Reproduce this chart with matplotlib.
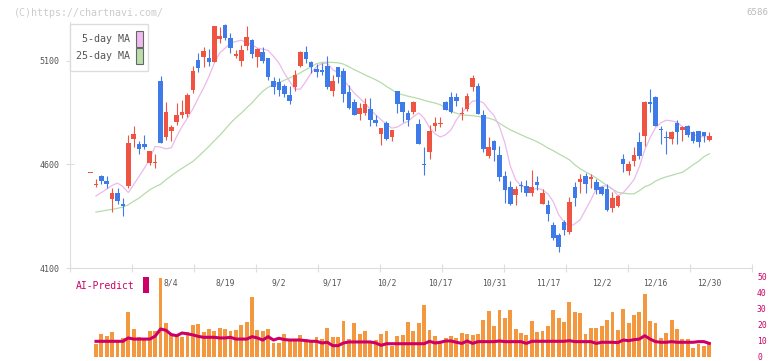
import matplotlib
matplotlib.use('Agg')
import matplotlib.pyplot as plt
import numpy as np
from matplotlib.patches import Rectangle
from matplotlib.transforms import blended_transform_factory

plt.rcParams['font.family'] = ['DejaVu Sans Mono', 'DejaVu Sans']

# ---------------- data ----------------
first_candle = -15          # trading-day index of first candle (8/4 = 0)
opens = [4558, 4500, 4542, 4521, 4434, 4464, 4411, 4498, 4722, 4698, 4699, 4609, 4606, 5003, 4732,
         4759, 4804, 4838, 4841, 4957, 5105, 5118, 5113, 5092, 5206, 5274, 5210, 5121, 5097,
         5169, 5201, 5116, 5140, 5113, 5003, 4997, 4976, 4936, 4971, 5077, 5140, 5092, 5061,
         5057, 5076, 4952, 5070, 5052, 4949, 4901, 4843, 4850, 4868, 4815, 4748, 4799, 4732,
         4952, 4899, 4850, 4855, 4796, 4603, 4662, 4783, 4795, 4901, 4925, 4925, 4844, 4868,
         4971, 4979, 4839, 4642, 4711, 4646, 4542, 4489, 4450, 4502, 4497, 4464, 4513, 4410,
         4405, 4309, 4257, 4322, 4273, 4490, 4513, 4546, 4529, 4513, 4489, 4482, 4389, 4397,
         4627, 4566, 4614, 4706, 4739, 4899, 4923, 4772, 4732, 4724, 4799, 4764, 4783, 4754,
         4762, 4756, 4719]
highs = [4558, 4529, 4550, 4542, 4486, 4486, 4440, 4743, 4786, 4715, 4743, 4666, 4651, 5028, 4899,
         4791, 4897, 4912, 4942, 5076, 5137, 5164, 5158, 5269, 5263, 5279, 5234, 5153, 5177,
         5269, 5206, 5161, 5166, 5113, 5024, 5019, 4989, 4976, 5057, 5145, 5172, 5097, 5086,
         5089, 5124, 5032, 5072, 5065, 4984, 4917, 4896, 4920, 4920, 4839, 4775, 4807, 4767,
         4952, 4899, 4860, 4907, 4819, 4683, 4791, 4828, 4828, 4906, 4949, 4944, 4875, 4944,
         5029, 4995, 4860, 4732, 4719, 4690, 4569, 4518, 4497, 4522, 4526, 4574, 4545, 4482,
         4429, 4322, 4268, 4333, 4442, 4515, 4553, 4558, 4553, 4529, 4497, 4505, 4466, 4453,
         4651, 4614, 4686, 4754, 4907, 4965, 4928, 4783, 4762, 4759, 4815, 4783, 4788, 4759,
         4762, 4756, 4754]
lows = [4558, 4490, 4505, 4486, 4368, 4408, 4349, 4486, 4686, 4651, 4675, 4595, 4582, 4701, 4719,
        4711, 4791, 4826, 4831, 4944, 5048, 5072, 5077, 5092, 5188, 5201, 5137, 5111, 5077,
        5150, 5113, 5072, 5089, 5005, 4939, 4931, 4923, 4891, 4955, 5072, 5089, 5041, 5024,
        5032, 4963, 4931, 4995, 4899, 4868, 4836, 4815, 4839, 4786, 4786, 4695, 4719, 4715,
        4850, 4804, 4783, 4843, 4698, 4550, 4627, 4762, 4778, 4860, 4848, 4883, 4812, 4859,
        4955, 4844, 4662, 4633, 4617, 4518, 4416, 4405, 4405, 4469, 4448, 4448, 4477, 4410,
        4328, 4236, 4175, 4260, 4265, 4400, 4464, 4464, 4486, 4457, 4453, 4376, 4368, 4392,
        4561, 4550, 4593, 4627, 4691, 4855, 4783, 4698, 4651, 4698, 4699, 4714, 4732, 4703,
        4682, 4706, 4711]
closes = [4558, 4506, 4518, 4503, 4462, 4424, 4397, 4704, 4748, 4674, 4683, 4666, 4613, 4701, 4854,
          4778, 4839, 4854, 4936, 5052, 5063, 5147, 5092, 5269, 5221, 5210, 5161, 5134, 5153,
          5214, 5132, 5158, 5101, 5024, 4971, 4957, 4939, 4908, 5032, 5140, 5110, 5068, 5048,
          5044, 4971, 5003, 5024, 4939, 4872, 4839, 4872, 4892, 4812, 4802, 4775, 4724, 4767,
          4891, 4855, 4812, 4901, 4698, 4598, 4762, 4802, 4802, 4864, 4852, 4904, 4850, 4931,
          5017, 4844, 4675, 4683, 4670, 4537, 4477, 4410, 4481, 4497, 4464, 4489, 4502, 4464,
          4362, 4247, 4199, 4284, 4418, 4440, 4531, 4505, 4539, 4474, 4457, 4378, 4437, 4448,
          4601, 4603, 4646, 4642, 4899, 4892, 4786, 4767, 4727, 4754, 4754, 4778, 4743, 4715,
          4706, 4735, 4738]

first_series = -14          # index of first MA / volume point
ma5 = [4448, 4464, 4481, 4498, 4510, 4493, 4464, 4502, 4542, 4582,
       4627, 4687, 4683, 4675, 4680, 4735, 4783, 4823, 4867, 4920,
       4968, 5024, 5089, 5137, 5161, 5185, 5193, 5199, 5188, 5177,
       5161, 5156, 5150, 5121, 5089, 5041, 5000, 4963, 4963, 5000,
       5041, 5072, 5086, 5089, 5057, 5041, 5008, 4976, 4944, 4920,
       4896, 4864, 4839, 4815, 4794, 4775, 4780, 4796, 4807, 4830,
       4848, 4823, 4777, 4748, 4732, 4743, 4767, 4815, 4849, 4879,
       4905, 4908, 4897, 4864, 4835, 4782, 4704, 4593, 4526, 4497,
       4486, 4477, 4485, 4477, 4458, 4420, 4357, 4323, 4299, 4313,
       4333, 4381, 4429, 4482, 4494, 4497, 4482, 4448, 4463, 4493,
       4526, 4588, 4670, 4728, 4777, 4801, 4813, 4810, 4803, 4782,
       4762, 4745, 4736, 4733, 4732]
ma25 = [4370, 4374, 4379, 4383, 4388, 4394, 4405, 4422, 4437, 4458,
        4477, 4492, 4504, 4526, 4545, 4564, 4581, 4598, 4614, 4637,
        4662, 4687, 4714, 4740, 4769, 4799, 4825, 4847, 4873, 4897,
        4926, 4953, 4972, 4984, 4994, 5006, 5017, 5030, 5042, 5057,
        5071, 5086, 5092, 5093, 5092, 5090, 5084, 5071, 5057, 5045,
        5032, 5020, 5008, 4994, 4976, 4960, 4943, 4936, 4929, 4923,
        4917, 4909, 4902, 4896, 4888, 4871, 4855, 4847, 4839, 4837,
        4835, 4831, 4827, 4823, 4815, 4798, 4782, 4767, 4755, 4743,
        4731, 4721, 4709, 4695, 4679, 4666, 4651, 4637, 4622, 4598,
        4579, 4564, 4550, 4534, 4516, 4497, 4480, 4465, 4461, 4458,
        4458, 4473, 4492, 4502, 4519, 4531, 4540, 4547, 4555, 4562,
        4579, 4598, 4615, 4637, 4651]
volume = [8.1, 14.4, 13.1, 15.6, 10, 11.7, 28.3, 17.5, 12.5, 11.7,
          16.5, 16.5, 49.4, 21.3, 14.4, 14, 12.5, 15.8, 20, 20.6,
          15.8, 17.5, 16.5, 18.1, 17.5, 16.5, 16.9, 20, 21.7, 37.7,
          16.9, 16, 17.5, 8.75, 8.75, 14.4, 10.6, 10.6, 13.8, 11.3,
          10.6, 12.5, 11.3, 18.1, 12.5, 12.5, 22.7, 11.3, 21.3, 14.4,
          16.5, 10.2, 10.6, 14.4, 16.5, 7.1, 13.3, 13.8, 22.1, 16.5,
          21.3, 32.7, 16.9, 12.9,
          9.2, 11.9, 13.1, 11.9, 15, 14.4, 13.75, 14.4, 23.1, 28.75,
          19.4, 29.4, 24.4, 29.4, 17.5, 15, 13.75, 22.5, 15.6, 16.25,
          19.4, 29.4, 24.4, 21.9, 34.4, 28.1, 27.5, 14.5, 18.1, 18.1,
          19.4, 23.1, 28.1, 16.9, 30, 21.25, 26.25, 28.1, 39.4, 22.5,
          21.25, 12, 15, 23.1, 17.5, 11.25, 11.25, 5.6, 8.1, 6.9, 8.75]
ai_predict = [9.8, 9.8, 9.8, 9.8, 9.8, 9.8, 11.9, 11.2, 11.2, 11.2,
              11.2, 13, 17.5, 16.7, 14, 13.3, 15, 14.5, 13.8, 12.9,
              12.3, 12.3, 12.3, 11.9, 11.9, 12.3, 11.2, 11.2, 11.2, 12.7,
              11.9, 10.6, 12.7, 10.6, 11.7, 10.9, 10.6, 10.6, 10.6, 10.2,
              9.8, 9.8, 8.75, 9.2, 7.1, 7.1, 8.75, 9.4, 9.4, 9.4,
              9.4, 9.4, 8.75, 7.3, 8.3, 8.3, 8.3, 8.3, 8.3, 8.3,
              8.3, 8.3, 9.8, 8.75, 9.2, 10, 10, 9.2, 8.5, 10,
              8.5, 9.6, 9.6, 9.6, 9.6, 10, 9.6, 9.6, 9.6, 9.6,
              8.5, 9.8, 9.8, 9.8, 9.8, 9.8, 9.8, 9.8, 10.2, 9.6,
              9.6, 9.6, 9.6, 8.5, 9.2, 9.2, 9.2, 9, 10.6, 10.2,
              10.8, 11.2, 13.3, 11.2, 9.6, 9.2, 9.2, 9.6, 9.2, 9.2,
              9.2, 9.2, 9.6, 9.6, 8.5]

date_labels = ['8/4', '8/19', '9/2', '9/17', '10/2', '10/17', '10/31',
               '11/17', '12/2', '12/16', '12/30']
date_label_index = [0, 10, 20, 30, 40, 50, 60, 70, 80, 90, 100]
price_ticks = [4100, 4600, 5100]
ai_ticks = [0, 10, 20, 30, 40, 50]

# ---------------- styling ----------------
RED = '#ef5443'
BLUE = '#3f7ae9'
PINK = '#ebbaeb'
GREEN = '#b6dcaa'
ORANGE = '#f3983f'
CRIMSON = '#cc0066'
AXIS = '#dddddd'
TEXT = '#555555'

W, H = 772, 361
fig = plt.figure(figsize=(W / 100, H / 100), dpi=100)


def fx(px):
    return px / W


def fy(py):
    return 1 - py / H


ax = fig.add_axes([fx(70), fy(268), (752 - 70) / W, (268 - 22) / H])
ax2 = fig.add_axes([fx(70), 0, (752 - 70) / W, (361 - 268) / H])

xlim = (-18.83, 107.94)

# candles
c_idx = np.arange(first_candle, first_candle + len(opens))
o = np.array(opens, float)
c = np.array(closes, float)
hi = np.array(highs, float)
lo = np.array(lows, float)
cols = [RED if cc >= oo else BLUE for oo, cc in zip(o, c)]
ax.vlines(c_idx, lo, hi, colors=cols, linewidth=0.8, zorder=3)
body_bottom = np.minimum(o, c)
body_h = np.maximum(np.abs(c - o), 4.5)
ax.bar(c_idx, body_h, bottom=body_bottom, width=0.85, color=cols,
       linewidth=0, zorder=4)

# moving averages
s_idx = np.arange(first_series, first_series + len(ma5))
ax.plot(s_idx, ma25, color=GREEN, lw=0.9, zorder=2)
ax.plot(s_idx, ma5, color=PINK, lw=0.9, zorder=2)

ax.set_xlim(*xlim)
ax.set_ylim(4100, 5287)
for side in ['top', 'right']:
    ax.spines[side].set_visible(False)
for side in ['left', 'bottom']:
    ax.spines[side].set_color(AXIS)
    ax.spines[side].set_linewidth(0.8)
ax.set_yticks(price_ticks)
ax.set_yticklabels([str(t) for t in price_ticks])
ax.set_xticks(np.linspace(xlim[0], xlim[1], 12))
ax.set_xticklabels([])
ax.tick_params(axis='y', direction='inout', length=6, width=0.8, color=AXIS,
               labelsize=6, labelcolor=TEXT, pad=4.5)
ax.tick_params(axis='x', direction='inout', length=6, width=0.8, color=AXIS)
ax.patch.set_alpha(0)

# bottom panel
v_idx = np.arange(first_series, first_series + len(volume))
ax2.bar(v_idx, volume, width=0.72, color=ORANGE, linewidth=0, zorder=2)
ax2.plot(s_idx, ai_predict, color=CRIMSON, lw=2.2, zorder=3)
ax2.set_xlim(*xlim)
ax2.set_ylim(-2.5, 55.6)
for sp in ax2.spines.values():
    sp.set_visible(False)
ax2.set_xticks([])
ax2.yaxis.tick_right()
ax2.set_yticks(ai_ticks)
ax2.set_yticklabels([str(t) for t in ai_ticks])
ax2.tick_params(axis='y', length=0, pad=3.6, labelsize=5.8, labelcolor=CRIMSON)
ax2.patch.set_alpha(0)

trans = blended_transform_factory(ax2.transData, ax2.transAxes)
for pos, lab in zip(date_label_index, date_labels):
    ax2.text(pos, 0.844, lab, transform=trans, ha='center', va='center',
             fontsize=5.8, color=TEXT)

# legend box
fig.add_artist(Rectangle((fx(70), fy(71)), 78 / W, 47 / H, transform=fig.transFigure,
                         facecolor='white', edgecolor=AXIS, lw=1.0, zorder=10))
fig.text(fx(130), fy(39.5), '5-day MA', ha='right', va='center', fontsize=7.2,
         color=TEXT, zorder=11)
fig.text(fx(130), fy(56), '25-day MA', ha='right', va='center', fontsize=7.2,
         color=TEXT, zorder=11)
fig.add_artist(Rectangle((fx(136), fy(46.7)), 6.7 / W, 15.7 / H, transform=fig.transFigure,
                         facecolor='#eebbee', edgecolor='#666666', lw=0.8, zorder=11))
fig.add_artist(Rectangle((fx(136), fy(64)), 6.7 / W, 15.7 / H, transform=fig.transFigure,
                         facecolor='#bbddaa', edgecolor='#666666', lw=0.8, zorder=11))

# AI-Predict label
fig.text(fx(76), fy(286), 'AI-Predict', ha='left', va='center', fontsize=7,
         color=CRIMSON)
fig.add_artist(Rectangle((fx(142.5), fy(293)), 6.5 / W, 16 / H, transform=fig.transFigure,
                         facecolor=CRIMSON, edgecolor='none'))

# watermark / code
fig.text(fx(14), fy(12.5), '(C)https://chartnavi.com/', ha='left', va='center',
         fontsize=7.2, color='#cccccc')
fig.text(fx(768), fy(12.5), '6586', ha='right', va='center', fontsize=6.6,
         color='#bbbbbb')

fig.savefig('out.png', dpi=100)
